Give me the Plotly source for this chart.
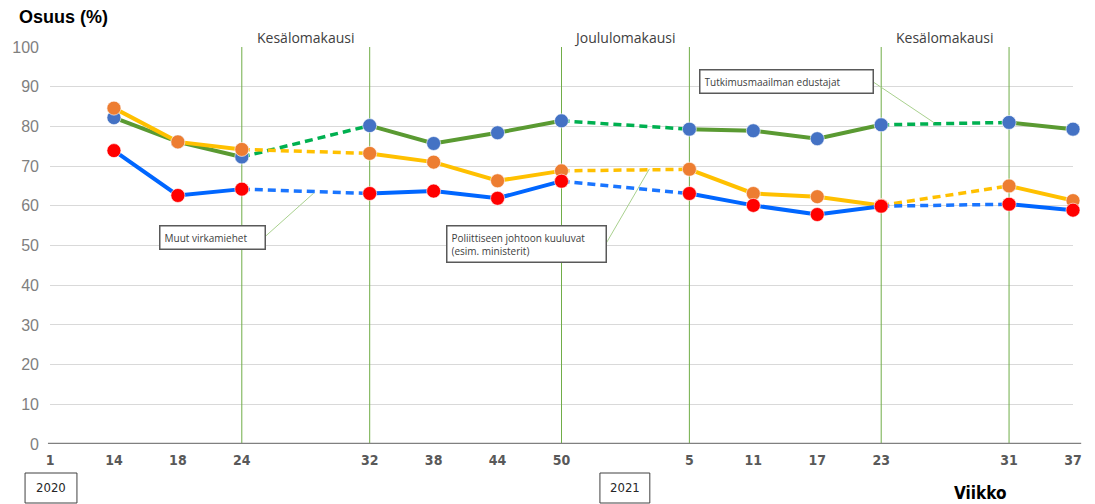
import plotly.graph_objects as go

# Survey weeks (2020 week 1 ... 2021 week 37) and their slot on the x axis
week_labels = ["1", "14", "18", "24", "32", "38", "44", "50", "5", "11", "17", "23", "31", "37"]
week_slots = [0, 1, 2, 3, 5, 6, 7, 8, 10, 11, 12, 13, 15, 16]

# Slots of the survey rounds that have data (week 1 is only the axis origin)
data_slots = [1, 2, 3, 5, 6, 7, 8, 10, 11, 12, 13, 15, 16]

# Share (%) per group
tutkimus = [82.2, 76.1, 72.3, 80.2, 75.7, 78.4, 81.4, 79.3, 78.9, 76.9, 80.4, 81.0, 79.3]
poliittinen = [84.6, 76.1, 74.2, 73.2, 71.0, 66.3, 68.8, 69.2, 63.1, 62.3, 60.1, 65.0, 61.3]
muut = [73.9, 62.6, 64.2, 63.1, 63.7, 61.9, 66.2, 63.1, 60.1, 57.8, 59.9, 60.4, 58.9]

# Consecutive survey blocks; gaps between blocks are holiday periods
blocks = [[1, 2, 3], [5, 6, 7, 8], [10, 11, 12, 13], [15, 16]]
holiday_edges = [3, 5, 8, 10, 13, 15]
holidays = [("Kesälomakausi", 4), ("Joululomakausi", 9), ("Kesälomakausi", 14)]

series = [
    ("Tutkimusmaailman edustajat", tutkimus, "#5a9a32", "#00b050", "#4472c4"),
    ("Poliittiseen johtoon kuuluvat", poliittinen, "#ffc000", "#ffc000", "#ed7d31"),
    ("Muut virkamiehet", muut, "#0066ff", "#1a75ff", "#ff0000"),
]

NARROW = "DejaVu Sans Condensed, Liberation Sans Narrow, Liberation Sans"

fig = go.Figure()

for name, vals, solid_col, dash_col, marker_col in series:
    lookup = dict(zip(data_slots, vals))
    # solid lines inside each survey block
    for blk in blocks:
        fig.add_trace(go.Scatter(
            x=blk, y=[lookup[s] for s in blk], mode="lines",
            line=dict(color=solid_col, width=4), showlegend=False,
            hoverinfo="skip", cliponaxis=False))
    # dashed lines across the holiday gaps
    for a, b in zip(blocks[:-1], blocks[1:]):
        fig.add_trace(go.Scatter(
            x=[a[-1], b[0]], y=[lookup[a[-1]], lookup[b[0]]], mode="lines",
            line=dict(color=dash_col, width=3.5, dash="8px,5px"), showlegend=False,
            hoverinfo="skip", cliponaxis=False))
    fig.add_trace(go.Scatter(
        x=data_slots, y=vals, mode="markers", name=name,
        marker=dict(color=marker_col, size=14, line=dict(color="rgba(255,255,255,0.6)", width=1)),
        showlegend=False, cliponaxis=False))

# holiday boundary lines
for s in holiday_edges:
    fig.add_shape(type="line", xref="x", yref="y", x0=s, x1=s, y0=0, y1=100.5,
                  line=dict(color="#70ad47", width=1), layer="between")

# holiday labels
for text, s in holidays:
    fig.add_annotation(x=s, y=1.025, xref="x", yref="paper", text=text, showarrow=False,
                       font=dict(family="Open Sans, Liberation Sans", size=14, color="#404040"),
                       xanchor="center", yanchor="middle")

# x axis base line
fig.add_shape(type="line", xref="paper", yref="y", x0=-0.002, x1=1.008, y0=0, y1=0,
              line=dict(color="#808080", width=2.5))

# series callouts with leader lines
callouts = [
    ("Muut virkamiehet", 2.547, 52.1, 96, (3.375, 52.4), (4.125, 63.2)),
    ("Poliittiseen johtoon kuuluvat<br>(esim. ministerit)", 7.45, 50.5, 150, (8.70, 50.6), (9.375, 69.3)),
    ("Tutkimusmaailman edustajat", 11.52, 91.4, 164, (12.875, 91.2), (13.83, 80.9)),
]
for text, cx, cy, w, p0, p1 in callouts:
    fig.add_shape(type="line", xref="x", yref="y", x0=p0[0], y0=p0[1], x1=p1[0], y1=p1[1],
                  line=dict(color="#a9d18e", width=1))
    fig.add_annotation(x=cx, y=cy, xref="x", yref="y", text=text, showarrow=False,
                       width=w, align="left", bgcolor="white", bordercolor="#595959",
                       borderwidth=1.5, borderpad=4,
                       font=dict(family="Open Sans, Liberation Sans", size=10, color="#404040"))

# year boxes under the axis
for label, px0, px1 in [("2020", 23, 75), ("2021", 599, 649)]:
    x0 = (px0 - 48) / 1025
    x1 = (px1 - 48) / 1025
    fig.add_shape(type="rect", xref="paper", yref="paper", x0=x0, x1=x1,
                  y0=(444 - 503) / 397, y1=(444 - 473) / 397,
                  line=dict(color="#404040", width=1), fillcolor="white")
    fig.add_annotation(x=(x0 + x1) / 2, y=(444 - 488) / 397, xref="paper", yref="paper",
                       text=label, showarrow=False, xanchor="center", yanchor="middle",
                       font=dict(family=NARROW, size=13, color="#262626"))

fig.add_annotation(x=(15 - 48) / 1025, y=(444 - 17) / 397, xref="paper", yref="paper",
                   text="<b>Osuus (%)</b>", showarrow=False, xanchor="left", yanchor="middle",
                   font=dict(family="Liberation Sans, Arial", size=18, color="black"))
fig.add_annotation(x=(980 - 48) / 1025, y=(444 - 493) / 397, xref="paper", yref="paper",
                   text="<b>Viikko</b>", showarrow=False, xanchor="center", yanchor="middle",
                   font=dict(family=NARROW, size=17, color="black"))

fig.update_layout(
    width=1095, height=504,
    margin=dict(l=48, r=22, t=47, b=60),
    plot_bgcolor="white", paper_bgcolor="white",
    showlegend=False,
    xaxis=dict(range=[0, 16], tickvals=week_slots, ticktext=[f"<b>{t}</b>" for t in week_labels],
               showgrid=False, zeroline=False, showline=False, ticks="",
               ticklabelstandoff=6,
               tickfont=dict(family=NARROW, size=14, color="#595959")),
    yaxis=dict(range=[0, 100], tickvals=list(range(0, 101, 10)), showgrid=True,
               gridcolor="#d9d9d9", gridwidth=1, zeroline=False, showline=False, ticks="",
               ticklabelstandoff=10,
               tickfont=dict(family="Liberation Sans, Arial", size=16, color="#7f7f7f")),
)

fig.write_html("out.html")
